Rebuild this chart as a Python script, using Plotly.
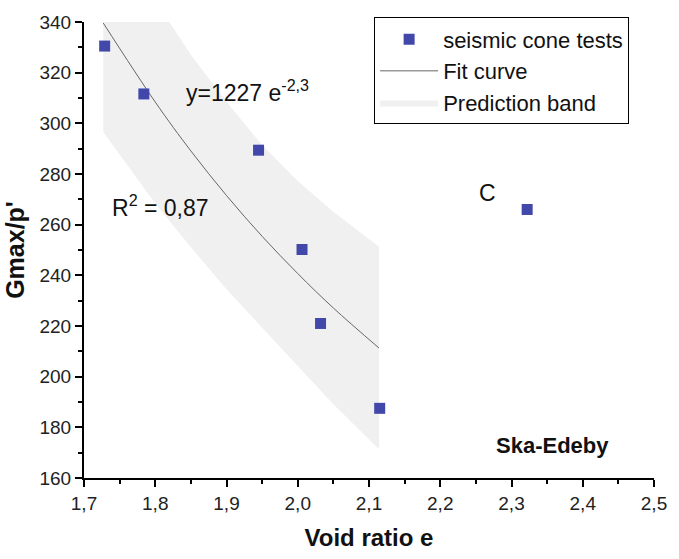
import plotly.graph_objects as go

# Seismic cone test results (void ratio e vs Gmax/p')
void_ratio = [1.729, 1.784, 1.945, 2.006, 2.032, 2.115]
gmax_p = [330.5, 311.6, 289.4, 250.2, 221.0, 187.5]

# Outlier point labelled "C"
c_void = [2.322]
c_gmax = [266.0]

# Fit curve samples
fit_x = [1.727, 1.80, 1.85, 1.90, 1.95, 2.00, 2.05, 2.114]
fit_y = [339.6, 308.4, 289.1, 271.5, 255.4, 240.7, 227.1, 211.3]

# Prediction band limits at the same abscissae
band_upper = [382.6, 348.4, 327.1, 308.5, 291.4, 277.2, 265.1, 251.3]
band_lower = [296.6, 268.4, 251.1, 234.5, 219.4, 204.2, 189.1, 171.3]

x_ticks = [1.7, 1.8, 1.9, 2.0, 2.1, 2.2, 2.3, 2.4, 2.5]
x_tick_text = ["1,7", "1,8", "1,9", "2,0", "2,1", "2,2", "2,3", "2,4", "2,5"]
y_ticks = [160, 180, 200, 220, 240, 260, 280, 300, 320, 340]

FONT = "Liberation Sans, Arial, sans-serif"
MARKER_COLOR = "#4248AA"

fig = go.Figure()

fig.add_trace(go.Scatter(
    x=fit_x + fit_x[::-1],
    y=band_upper + band_lower[::-1],
    fill="toself",
    fillcolor="#F0F0F0",
    line=dict(width=0, color="#F0F0F0"),
    mode="lines",
    name="Prediction band",
    legendrank=3,
    hoverinfo="skip",
))

fig.add_trace(go.Scatter(
    x=fit_x, y=fit_y,
    mode="lines",
    line=dict(color="#666666", width=1, shape="spline"),
    name="Fit curve",
    legendrank=2,
))

fig.add_trace(go.Scatter(
    x=void_ratio + c_void, y=gmax_p + c_gmax,
    mode="markers",
    marker=dict(symbol="square", size=11, color=MARKER_COLOR,
                line=dict(width=0)),
    name="seismic cone tests",
    legendrank=1,
))

annot_font = dict(family=FONT, size=23, color="#111")
fig.add_annotation(x=1.840, y=312.6, text="y=1227 e<sup>-2,3</sup>",
                   showarrow=False, xanchor="left", yanchor="middle",
                   font=annot_font)
fig.add_annotation(x=1.737, y=267.5, text="R<sup>2</sup> = 0,87",
                   showarrow=False, xanchor="left", yanchor="middle",
                   font=annot_font)
fig.add_annotation(x=2.266, y=272.4, text="C",
                   showarrow=False, xanchor="center", yanchor="middle",
                   font=annot_font)
fig.add_annotation(x=2.440, y=173.0, text="<b>Ska-Edeby</b>",
                   showarrow=False, xanchor="right", yanchor="middle",
                   font=dict(family=FONT, size=22, color="#111"))

axis_common = dict(
    showline=True, linecolor="black", linewidth=2,
    ticks="outside", ticklen=7, tickwidth=2, tickcolor="black",
    showgrid=False, zeroline=False,
    tickfont=dict(family=FONT, size=19, color="#222"),
)

fig.update_xaxes(
    range=[1.7, 2.5], tickvals=x_ticks, ticktext=x_tick_text,
    minor=dict(ticks="outside", ticklen=4, tickwidth=2, tickcolor="black",
               dtick=0.05, tick0=1.7),
    title=dict(text="<b>Void ratio e</b>",
               font=dict(family=FONT, size=24, color="#111"), standoff=16),
    **axis_common,
)
fig.update_yaxes(
    range=[160, 340], tickvals=y_ticks,
    minor=dict(ticks="outside", ticklen=4, tickwidth=2, tickcolor="black",
               dtick=10, tick0=160),
    title=dict(text="<b>Gmax/p'</b>",
               font=dict(family=FONT, size=25, color="#111"), standoff=8),
    **axis_common,
)

fig.update_layout(
    width=679, height=559,
    margin=dict(l=84, r=15, t=17, b=75),
    plot_bgcolor="white", paper_bgcolor="white",
    showlegend=True,
    legend=dict(
        x=0.509, y=1.01, xanchor="left", yanchor="top",
        bgcolor="white", bordercolor="black", borderwidth=1,
        font=dict(family=FONT, size=22, color="#111"),
        itemwidth=58, tracegroupgap=0,
    ),
)

fig.write_html("out.html")
